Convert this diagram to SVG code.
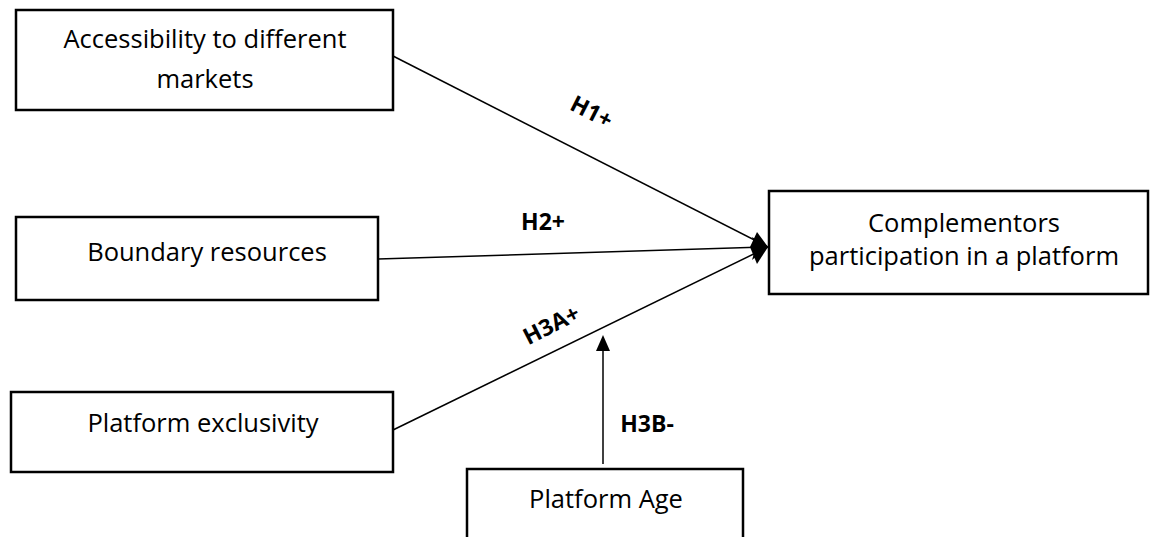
<svg xmlns="http://www.w3.org/2000/svg" width="1155" height="537" viewBox="0 0 1155 537">
<style>
.box{fill:#fff;stroke:#000;stroke-width:2.5}
.t{font-family:"Open Sans","Liberation Sans",sans-serif;font-size:25.5px;fill:#000;text-anchor:middle}
.l{font-family:"Open Sans","Liberation Sans",sans-serif;font-size:23px;font-weight:bold;fill:#000;text-anchor:middle}
.c{stroke:#000;stroke-width:1.5;fill:none}
</style>
<rect width="1155" height="537" fill="#fff"/>
<g id="connectors">
<line class="c" x1="393" y1="56" x2="768" y2="247"/>
<line class="c" x1="378" y1="259" x2="768" y2="247"/>
<line class="c" x1="393" y1="430" x2="768" y2="247"/>
<path d="M768,247 L752,237 L756,247 L752,260 z" fill="#000"/>
<path d="M768,247 L757,232 L750,247 L757,264 z" fill="#000"/>
<line class="c" x1="603" y1="464" x2="603" y2="348"/>
<path d="M603,335 L596,351 L610,351 z" fill="#000"/>
</g>
<g id="labels">
<text class="l" transform="translate(588,119) rotate(27)">H1+</text>
<text class="l" x="543" y="230">H2+</text>
<text class="l" transform="translate(555,332) rotate(-27)">H3A+</text>
<text class="l" x="647" y="432">H3B-</text>
</g>
<g id="n1"><rect class="box" x="16" y="10" width="377" height="100"/>
<text class="t" x="205" y="48">Accessibility to different</text>
<text class="t" x="205" y="88">markets</text></g>
<g id="n2"><rect class="box" x="16" y="217" width="362" height="83"/>
<text class="t" x="207" y="261">Boundary resources</text></g>
<g id="n3"><rect class="box" x="11" y="392" width="382" height="80"/>
<text class="t" x="203" y="432">Platform exclusivity</text></g>
<g id="n4"><rect class="box" x="769" y="191" width="379" height="103"/>
<text class="t" x="964" y="232">Complementors</text>
<text class="t" x="964" y="265">participation in a platform</text></g>
<g id="n5"><rect class="box" x="467" y="469" width="276" height="80"/>
<text class="t" x="606" y="508">Platform Age</text></g>
</svg>
